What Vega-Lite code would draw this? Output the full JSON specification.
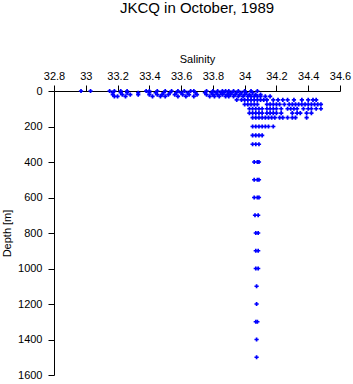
{
  "$schema": "https://vega.github.io/schema/vega-lite/v6.json",
  "autosize": "none",
  "width": 286,
  "height": 284,
  "padding": {"left": 54, "top": 91, "right": 13, "bottom": 9},
  "background": "white",
  "title": {"text": "JKCQ in October, 1989", "font": "Liberation Sans", "fontSize": 15, "fontWeight": "normal", "color": "black", "anchor": "middle", "offset": 37},
  "config": {"view": {"stroke": null}, "axis": {"grid": false, "domainColor": "black", "tickColor": "black", "labelColor": "black", "titleColor": "black", "labelFont": "Liberation Sans", "titleFont": "Liberation Sans", "labelFontSize": 11, "titleFontSize": 11, "titleFontWeight": "normal", "tickSize": 6}},
  "datasets": {
    "ctd": [
      {"salinity": 32.97, "depth": 0}, {"salinity": 33.03, "depth": 0}, {"salinity": 33.15, "depth": 0}, {"salinity": 33.18, "depth": 0}, {"salinity": 33.22, "depth": 0}, {"salinity": 33.26, "depth": 0}, {"salinity": 33.38, "depth": 0}, {"salinity": 33.40, "depth": 0}, {"salinity": 33.45, "depth": 0}, {"salinity": 33.50, "depth": 0}, {"salinity": 33.54, "depth": 0}, {"salinity": 33.58, "depth": 0}, {"salinity": 33.62, "depth": 0}, {"salinity": 33.66, "depth": 0}, {"salinity": 33.68, "depth": 0}, {"salinity": 33.76, "depth": 0}, {"salinity": 33.80, "depth": 0}, {"salinity": 33.83, "depth": 0}, {"salinity": 33.86, "depth": 0}, {"salinity": 33.88, "depth": 0}, {"salinity": 33.90, "depth": 0}, {"salinity": 33.93, "depth": 0}, {"salinity": 33.96, "depth": 0}, {"salinity": 34.00, "depth": 0}, {"salinity": 34.04, "depth": 0}, {"salinity": 34.08, "depth": 0},
      {"salinity": 33.17, "depth": 10}, {"salinity": 33.22, "depth": 10}, {"salinity": 33.26, "depth": 10}, {"salinity": 33.33, "depth": 10}, {"salinity": 33.40, "depth": 10}, {"salinity": 33.44, "depth": 10}, {"salinity": 33.49, "depth": 10}, {"salinity": 33.53, "depth": 10}, {"salinity": 33.57, "depth": 10}, {"salinity": 33.60, "depth": 10}, {"salinity": 33.64, "depth": 10}, {"salinity": 33.69, "depth": 10}, {"salinity": 33.75, "depth": 10}, {"salinity": 33.79, "depth": 10}, {"salinity": 33.82, "depth": 10}, {"salinity": 33.85, "depth": 10}, {"salinity": 33.87, "depth": 10}, {"salinity": 33.90, "depth": 10}, {"salinity": 33.92, "depth": 10}, {"salinity": 33.95, "depth": 10}, {"salinity": 33.98, "depth": 10}, {"salinity": 34.01, "depth": 10}, {"salinity": 34.05, "depth": 10},
      {"salinity": 33.17, "depth": 20}, {"salinity": 33.23, "depth": 20}, {"salinity": 33.28, "depth": 20}, {"salinity": 33.33, "depth": 20}, {"salinity": 33.40, "depth": 20}, {"salinity": 33.45, "depth": 20}, {"salinity": 33.48, "depth": 20}, {"salinity": 33.52, "depth": 20}, {"salinity": 33.56, "depth": 20}, {"salinity": 33.61, "depth": 20}, {"salinity": 33.65, "depth": 20}, {"salinity": 33.70, "depth": 20}, {"salinity": 33.76, "depth": 20}, {"salinity": 33.80, "depth": 20}, {"salinity": 33.83, "depth": 20}, {"salinity": 33.86, "depth": 20}, {"salinity": 33.89, "depth": 20}, {"salinity": 33.91, "depth": 20}, {"salinity": 33.94, "depth": 20}, {"salinity": 33.97, "depth": 20}, {"salinity": 34.00, "depth": 20}, {"salinity": 34.03, "depth": 20}, {"salinity": 34.07, "depth": 20}, {"salinity": 34.10, "depth": 20},
      {"salinity": 33.18, "depth": 30}, {"salinity": 33.20, "depth": 30}, {"salinity": 33.25, "depth": 30}, {"salinity": 33.42, "depth": 30}, {"salinity": 33.47, "depth": 30}, {"salinity": 33.50, "depth": 30}, {"salinity": 33.58, "depth": 30}, {"salinity": 33.63, "depth": 30}, {"salinity": 33.68, "depth": 30}, {"salinity": 33.78, "depth": 30}, {"salinity": 33.81, "depth": 30}, {"salinity": 33.84, "depth": 30}, {"salinity": 33.88, "depth": 30}, {"salinity": 33.90, "depth": 30}, {"salinity": 33.93, "depth": 30}, {"salinity": 33.96, "depth": 30}, {"salinity": 33.99, "depth": 30}, {"salinity": 34.02, "depth": 30}, {"salinity": 34.04, "depth": 30}, {"salinity": 34.06, "depth": 30}, {"salinity": 34.08, "depth": 30}, {"salinity": 34.10, "depth": 30}, {"salinity": 34.13, "depth": 30}, {"salinity": 34.16, "depth": 30},
      {"salinity": 33.95, "depth": 50}, {"salinity": 33.98, "depth": 50}, {"salinity": 34.00, "depth": 50}, {"salinity": 34.02, "depth": 50}, {"salinity": 34.04, "depth": 50}, {"salinity": 34.06, "depth": 50}, {"salinity": 34.08, "depth": 50}, {"salinity": 34.10, "depth": 50}, {"salinity": 34.12, "depth": 50}, {"salinity": 34.14, "depth": 50}, {"salinity": 34.18, "depth": 50}, {"salinity": 34.21, "depth": 50}, {"salinity": 34.24, "depth": 50}, {"salinity": 34.27, "depth": 50}, {"salinity": 34.31, "depth": 50}, {"salinity": 34.36, "depth": 50}, {"salinity": 34.40, "depth": 50}, {"salinity": 34.43, "depth": 50}, {"salinity": 34.45, "depth": 50},
      {"salinity": 34.00, "depth": 75}, {"salinity": 34.02, "depth": 75}, {"salinity": 34.04, "depth": 75}, {"salinity": 34.06, "depth": 75}, {"salinity": 34.08, "depth": 75}, {"salinity": 34.14, "depth": 75}, {"salinity": 34.16, "depth": 75}, {"salinity": 34.18, "depth": 75}, {"salinity": 34.20, "depth": 75}, {"salinity": 34.22, "depth": 75}, {"salinity": 34.25, "depth": 75}, {"salinity": 34.28, "depth": 75}, {"salinity": 34.30, "depth": 75}, {"salinity": 34.32, "depth": 75}, {"salinity": 34.34, "depth": 75}, {"salinity": 34.36, "depth": 75}, {"salinity": 34.38, "depth": 75}, {"salinity": 34.40, "depth": 75}, {"salinity": 34.42, "depth": 75}, {"salinity": 34.44, "depth": 75}, {"salinity": 34.46, "depth": 75}, {"salinity": 34.48, "depth": 75},
      {"salinity": 34.03, "depth": 100}, {"salinity": 34.05, "depth": 100}, {"salinity": 34.07, "depth": 100}, {"salinity": 34.09, "depth": 100}, {"salinity": 34.11, "depth": 100}, {"salinity": 34.14, "depth": 100}, {"salinity": 34.16, "depth": 100}, {"salinity": 34.18, "depth": 100}, {"salinity": 34.20, "depth": 100}, {"salinity": 34.23, "depth": 100}, {"salinity": 34.27, "depth": 100}, {"salinity": 34.29, "depth": 100}, {"salinity": 34.31, "depth": 100}, {"salinity": 34.33, "depth": 100}, {"salinity": 34.37, "depth": 100}, {"salinity": 34.40, "depth": 100}, {"salinity": 34.42, "depth": 100}, {"salinity": 34.45, "depth": 100}, {"salinity": 34.48, "depth": 100},
      {"salinity": 34.03, "depth": 125}, {"salinity": 34.05, "depth": 125}, {"salinity": 34.07, "depth": 125}, {"salinity": 34.09, "depth": 125}, {"salinity": 34.11, "depth": 125}, {"salinity": 34.14, "depth": 125}, {"salinity": 34.16, "depth": 125}, {"salinity": 34.18, "depth": 125}, {"salinity": 34.20, "depth": 125}, {"salinity": 34.23, "depth": 125}, {"salinity": 34.30, "depth": 125}, {"salinity": 34.33, "depth": 125}, {"salinity": 34.35, "depth": 125}, {"salinity": 34.39, "depth": 125}, {"salinity": 34.42, "depth": 125},
      {"salinity": 34.05, "depth": 150}, {"salinity": 34.07, "depth": 150}, {"salinity": 34.09, "depth": 150}, {"salinity": 34.11, "depth": 150}, {"salinity": 34.13, "depth": 150}, {"salinity": 34.15, "depth": 150}, {"salinity": 34.17, "depth": 150}, {"salinity": 34.19, "depth": 150}, {"salinity": 34.22, "depth": 150}, {"salinity": 34.24, "depth": 150}, {"salinity": 34.27, "depth": 150}, {"salinity": 34.30, "depth": 150}, {"salinity": 34.32, "depth": 150}, {"salinity": 34.39, "depth": 150},
      {"salinity": 34.05, "depth": 200}, {"salinity": 34.07, "depth": 200}, {"salinity": 34.09, "depth": 200}, {"salinity": 34.11, "depth": 200}, {"salinity": 34.13, "depth": 200}, {"salinity": 34.15, "depth": 200}, {"salinity": 34.18, "depth": 200},
      {"salinity": 34.05, "depth": 250}, {"salinity": 34.07, "depth": 250}, {"salinity": 34.09, "depth": 250}, {"salinity": 34.11, "depth": 250},
      {"salinity": 34.05, "depth": 300}, {"salinity": 34.07, "depth": 300}, {"salinity": 34.09, "depth": 300},
      {"salinity": 34.06, "depth": 400}, {"salinity": 34.08, "depth": 400}, {"salinity": 34.09, "depth": 400},
      {"salinity": 34.06, "depth": 500}, {"salinity": 34.08, "depth": 500}, {"salinity": 34.09, "depth": 500},
      {"salinity": 34.06, "depth": 600}, {"salinity": 34.08, "depth": 600}, {"salinity": 34.09, "depth": 600},
      {"salinity": 34.065, "depth": 700}, {"salinity": 34.085, "depth": 700},
      {"salinity": 34.07, "depth": 800}, {"salinity": 34.085, "depth": 800},
      {"salinity": 34.07, "depth": 900}, {"salinity": 34.085, "depth": 900},
      {"salinity": 34.07, "depth": 1000}, {"salinity": 34.085, "depth": 1000},
      {"salinity": 34.075, "depth": 1100},
      {"salinity": 34.075, "depth": 1200},
      {"salinity": 34.07, "depth": 1300}, {"salinity": 34.08, "depth": 1300},
      {"salinity": 34.075, "depth": 1400},
      {"salinity": 34.075, "depth": 1500}
    ]
  },
  "data": {"name": "ctd"},
  "mark": {"type": "point", "shape": "cross", "filled": true, "size": 18, "color": "#0000ff", "opacity": 1},
  "encoding": {
    "x": {"field": "salinity", "type": "quantitative", "title": "Salinity",
      "scale": {"domain": [32.8, 34.6], "nice": false, "zero": false},
      "axis": {"orient": "top", "values": [32.8, 33, 33.2, 33.4, 33.6, 33.8, 34, 34.2, 34.4, 34.6], "format": "~f", "labelPadding": 4, "titlePadding": 6, "labelFlush": false}},
    "y": {"field": "depth", "type": "quantitative", "title": "Depth [m]",
      "scale": {"domain": [0, 1600], "nice": false, "reverse": true},
      "axis": {"values": [0, 200, 400, 600, 800, 1000, 1200, 1400, 1600], "format": "d", "labelPadding": 6, "titlePadding": 5, "labelFlush": false}}
  }
}
